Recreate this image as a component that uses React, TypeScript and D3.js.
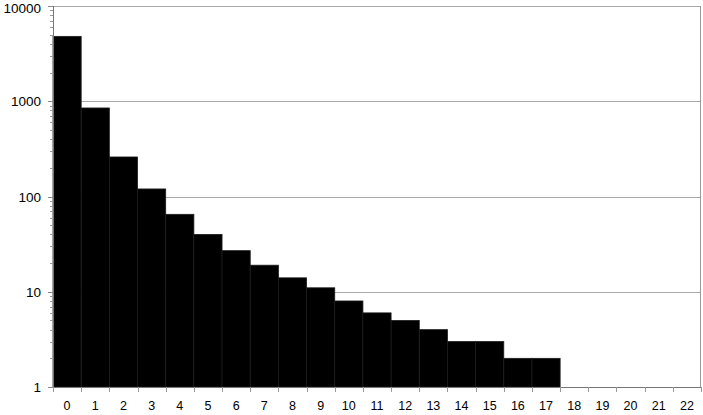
import React, { useEffect, useRef } from 'react';
import * as d3 from 'd3';

const categories = [
  '0', '1', '2', '3', '4', '5', '6', '7', '8', '9', '10', '11',
  '12', '13', '14', '15', '16', '17', '18', '19', '20', '21', '22',
];
const counts = [4800, 850, 260, 120, 65, 40, 27, 19, 14, 11, 8, 6, 5, 4, 3, 3, 2, 2, 0, 0, 0, 0, 0];
const yTicks = [1, 10, 100, 1000, 10000];

const width = 703;
const height = 415;
const margin = { top: 6, right: 2, bottom: 28, left: 53 };

const App: React.FC = () => {
  const svgRef = useRef<SVGSVGElement>(null);

  useEffect(() => {
    if (!svgRef.current) return;
    const svg = d3.select(svgRef.current);
    svg.selectAll('*').remove();

    const x = d3.scaleBand<string>()
      .domain(categories)
      .range([margin.left, width - margin.right])
      .padding(0);

    const y = d3.scaleLog()
      .domain([1, 10000])
      .range([height - margin.bottom, margin.top]);

    const x0 = margin.left;
    const x1 = width - margin.right;
    const yBottom = height - margin.bottom;

    // gridlines
    svg.append('g')
      .selectAll('line')
      .data(yTicks.slice(1))
      .enter()
      .append('line')
      .attr('x1', x0)
      .attr('x2', x1)
      .attr('y1', (d) => Math.round(y(d)) + 0.5)
      .attr('y2', (d) => Math.round(y(d)) + 0.5)
      .attr('stroke', '#aaa')
      .attr('stroke-width', 1);

    // right border
    svg.append('line')
      .attr('x1', x1 - 0.5)
      .attr('x2', x1 - 0.5)
      .attr('y1', margin.top)
      .attr('y2', yBottom)
      .attr('stroke', '#999');

    // bars
    svg.append('g')
      .selectAll('rect')
      .data(counts.map((v, i) => ({ cat: categories[i], v })).filter((d) => d.v > 0))
      .enter()
      .append('rect')
      .attr('x', (d) => x(d.cat)!)
      .attr('width', x.bandwidth())
      .attr('y', (d) => y(d.v))
      .attr('height', (d) => yBottom - y(d.v))
      .attr('fill', '#000')
      .attr('stroke', '#1c1c1c')
      .attr('stroke-width', 0.8);

    // y axis minor ticks
    const minor: number[] = [];
    for (let p = 1; p < 10000; p *= 10) {
      for (let k = 2; k <= 9; k++) minor.push(p * k);
    }
    svg.append('g')
      .selectAll('line')
      .data(minor)
      .enter()
      .append('line')
      .attr('x1', x0 - 3)
      .attr('x2', x0)
      .attr('y1', (d) => Math.round(y(d)) + 0.5)
      .attr('y2', (d) => Math.round(y(d)) + 0.5)
      .attr('stroke', '#999');

    // y axis major ticks
    svg.append('g')
      .selectAll('line')
      .data(yTicks)
      .enter()
      .append('line')
      .attr('x1', x0 - 5)
      .attr('x2', x0)
      .attr('y1', (d) => Math.round(y(d)) + 0.5)
      .attr('y2', (d) => Math.round(y(d)) + 0.5)
      .attr('stroke', '#888');

    // y axis line
    svg.append('line')
      .attr('x1', x0 + 0.5)
      .attr('x2', x0 + 0.5)
      .attr('y1', margin.top)
      .attr('y2', yBottom + 0.5)
      .attr('stroke', '#777');

    // x axis line
    svg.append('line')
      .attr('x1', x0)
      .attr('x2', x1)
      .attr('y1', yBottom + 0.5)
      .attr('y2', yBottom + 0.5)
      .attr('stroke', '#777');

    // x ticks at category boundaries
    const bounds = categories.map((c) => x(c)!).concat([x1]);
    svg.append('g')
      .selectAll('line')
      .data(bounds)
      .enter()
      .append('line')
      .attr('x1', (d) => Math.round(d) + 0.5)
      .attr('x2', (d) => Math.round(d) + 0.5)
      .attr('y1', yBottom)
      .attr('y2', yBottom + 5)
      .attr('stroke', '#999');

    // y labels (top one nudged down so it stays inside the picture)
    svg.append('g')
      .selectAll('text')
      .data(yTicks)
      .enter()
      .append('text')
      .attr('x', 41)
      .attr('y', (d) => Math.max(y(d) + 5, 12.5))
      .attr('text-anchor', 'end')
      .attr('font-family', '"Liberation Sans", Arial, sans-serif')
      .attr('font-size', '13.5px')
      .attr('fill', '#000')
      .text((d) => String(d));

    // x labels
    svg.append('g')
      .selectAll('text')
      .data(categories)
      .enter()
      .append('text')
      .attr('x', (d) => x(d)! + x.bandwidth() / 2)
      .attr('y', 410)
      .attr('text-anchor', 'middle')
      .attr('font-family', '"Liberation Sans", Arial, sans-serif')
      .attr('font-size', '12.5px')
      .attr('fill', '#000')
      .text((d) => d);
  }, []);

  return (
    <div style={{ position: 'fixed', left: 0, top: 0, background: '#fff' }}>
      <svg ref={svgRef} width={width} height={height} style={{ display: 'block' }} />
    </div>
  );
};

export default App;
